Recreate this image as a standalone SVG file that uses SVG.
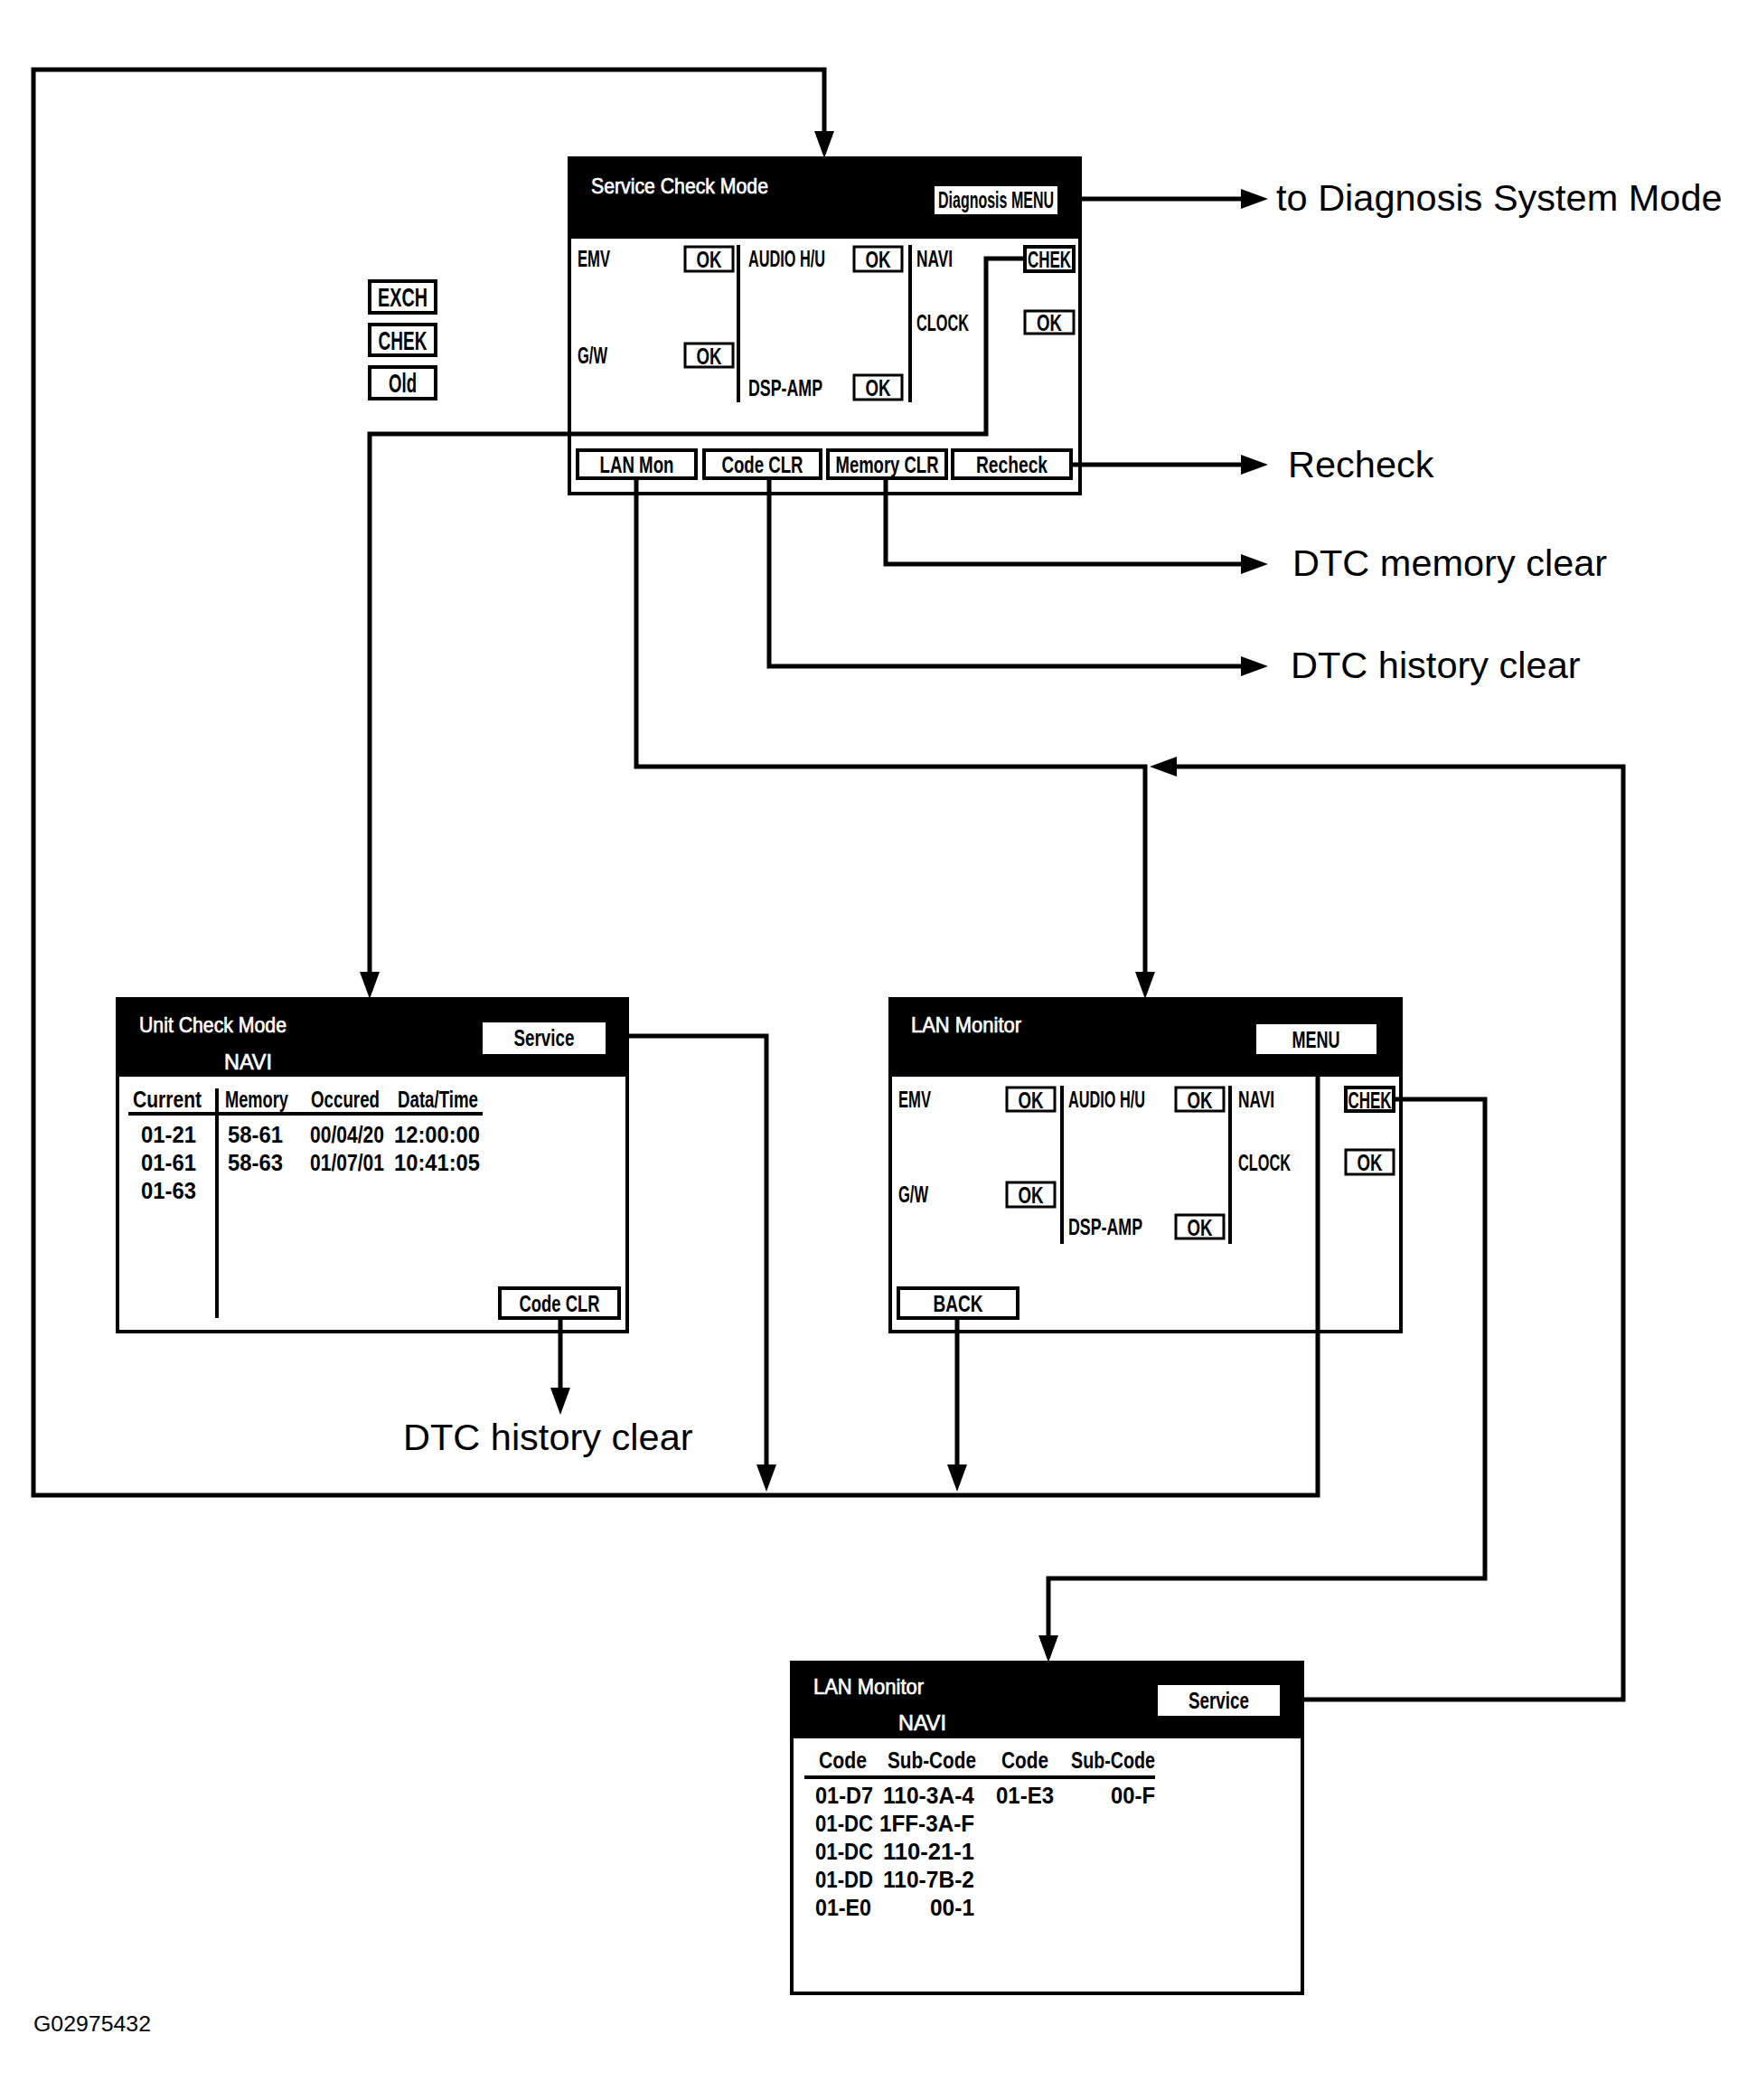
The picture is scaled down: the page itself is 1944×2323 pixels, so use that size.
<svg xmlns="http://www.w3.org/2000/svg" width="1944" height="2323" viewBox="0 0 1944 2323">
<style>
.bg{fill:#fff}
.box{fill:#fff;stroke:#000;stroke-width:4}
.hdr{fill:#000}
.btn{fill:#fff;stroke:#000;stroke-width:3}
.btnb{fill:#fff;stroke:#000;stroke-width:4}
.wbtn{fill:#fff}
.dv{stroke:#000;stroke-width:4;fill:none}
.conn{fill:none;stroke:#000;stroke-width:5}
text{font-family:"Liberation Sans",Arial,sans-serif}
.l{font-weight:bold;font-size:25px;fill:#000}
.c{font-weight:bold;font-size:25px;fill:#000;text-anchor:middle}
.e{font-weight:bold;font-size:25px;fill:#000;text-anchor:end}
.t{font-size:24px;fill:#fff;stroke:#fff;stroke-width:0.7}
.big{font-size:41.5px;fill:#000}
.lg{font-weight:bold;font-size:30px;fill:#000;text-anchor:middle}
.id{font-size:23.5px;fill:#000}
</style>
<defs>
<marker id="ah" markerUnits="userSpaceOnUse" markerWidth="30" markerHeight="22" refX="16" refY="11" orient="auto">
<path d="M0,0 L30,11 L0,22 z" fill="#000"/>
</marker>
</defs>
<rect class="bg" x="0" y="0" width="1944" height="2323"/>

<g id="legend">
<rect class="btnb" x="409" y="311" width="73" height="35"/>
<text class="lg" x="445.5" y="339" textLength="55" lengthAdjust="spacingAndGlyphs">EXCH</text>
<rect class="btnb" x="409" y="359" width="73" height="34"/>
<text class="lg" x="445.5" y="387" textLength="54" lengthAdjust="spacingAndGlyphs">CHEK</text>
<rect class="btnb" x="409" y="406" width="73" height="35"/>
<text class="lg" x="445.5" y="434" textLength="31" lengthAdjust="spacingAndGlyphs">Old</text>
</g>

<g id="service-check-mode">
<rect class="box" x="630" y="175" width="565" height="371"/>
<rect class="hdr" x="630" y="175" width="565" height="89"/>
<text class="t" x="654" y="214" textLength="196" lengthAdjust="spacingAndGlyphs">Service Check Mode</text>
<rect class="wbtn" x="1034" y="206" width="136" height="31"/>
<text class="c" x="1102" y="230" font-size="22" textLength="128" lengthAdjust="spacingAndGlyphs">Diagnosis MENU</text>
<line class="dv" x1="817" y1="271" x2="817" y2="445"/>
<line class="dv" x1="1007" y1="271" x2="1007" y2="445"/>
<text class="l" x="639" y="295" textLength="36" lengthAdjust="spacingAndGlyphs">EMV</text>
<rect class="btn" x="758" y="273" width="53" height="27"/>
<text class="c" x="784.5" y="296" textLength="28" lengthAdjust="spacingAndGlyphs">OK</text>
<text class="l" x="828" y="295" textLength="85" lengthAdjust="spacingAndGlyphs">AUDIO H/U</text>
<rect class="btn" x="945" y="273" width="53" height="27"/>
<text class="c" x="971.5" y="296" textLength="28" lengthAdjust="spacingAndGlyphs">OK</text>
<text class="l" x="1014" y="295" textLength="40" lengthAdjust="spacingAndGlyphs">NAVI</text>
<rect class="btnb" x="1134" y="273" width="54" height="27"/>
<text class="c" x="1161" y="296" textLength="48" lengthAdjust="spacingAndGlyphs">CHEK</text>
<text class="l" x="1014" y="366" textLength="58" lengthAdjust="spacingAndGlyphs">CLOCK</text>
<rect class="btn" x="1134" y="344" width="54" height="25"/>
<text class="c" x="1161" y="366" textLength="28" lengthAdjust="spacingAndGlyphs">OK</text>
<text class="l" x="639" y="402" textLength="33" lengthAdjust="spacingAndGlyphs">G/W</text>
<rect class="btn" x="758" y="380" width="53" height="26"/>
<text class="c" x="784.5" y="403" textLength="28" lengthAdjust="spacingAndGlyphs">OK</text>
<text class="l" x="828" y="438" textLength="82" lengthAdjust="spacingAndGlyphs">DSP-AMP</text>
<rect class="btn" x="945" y="415" width="53" height="27"/>
<text class="c" x="971.5" y="438" textLength="28" lengthAdjust="spacingAndGlyphs">OK</text>
<rect class="btnb" x="639" y="498" width="131" height="31"/>
<text class="c" x="704.5" y="523" textLength="82" lengthAdjust="spacingAndGlyphs">LAN Mon</text>
<rect class="btnb" x="779" y="498" width="129" height="31"/>
<text class="c" x="843.5" y="523" textLength="90" lengthAdjust="spacingAndGlyphs">Code CLR</text>
<rect class="btnb" x="916" y="498" width="131" height="31"/>
<text class="c" x="981.5" y="523" textLength="114" lengthAdjust="spacingAndGlyphs">Memory CLR</text>
<rect class="btnb" x="1054" y="498" width="131" height="31"/>
<text class="c" x="1119.5" y="523" textLength="79" lengthAdjust="spacingAndGlyphs">Recheck</text>
</g>

<g id="unit-check-mode">
<rect class="box" x="130" y="1105" width="564" height="368"/>
<rect class="hdr" x="130" y="1105" width="564" height="86"/>
<text class="t" x="154" y="1142" textLength="163" lengthAdjust="spacingAndGlyphs">Unit Check Mode</text>
<text class="t" x="248" y="1183" textLength="53" lengthAdjust="spacingAndGlyphs">NAVI</text>
<rect class="wbtn" x="534" y="1131" width="136" height="35"/>
<text class="c" x="602" y="1157" textLength="67" lengthAdjust="spacingAndGlyphs">Service</text>
<text class="l" x="147" y="1225" textLength="76" lengthAdjust="spacingAndGlyphs">Current</text>
<text class="l" x="249" y="1225" textLength="70" lengthAdjust="spacingAndGlyphs">Memory</text>
<text class="l" x="344" y="1225" textLength="76" lengthAdjust="spacingAndGlyphs">Occured</text>
<text class="l" x="440" y="1225" textLength="89" lengthAdjust="spacingAndGlyphs">Data/Time</text>
<line class="dv" x1="142" y1="1232" x2="534" y2="1232"/>
<line class="dv" x1="240" y1="1204" x2="240" y2="1458"/>
<text class="l" x="156" y="1264" textLength="61" lengthAdjust="spacingAndGlyphs">01-21</text>
<text class="l" x="252" y="1264" textLength="61" lengthAdjust="spacingAndGlyphs">58-61</text>
<text class="l" x="343" y="1264" textLength="82" lengthAdjust="spacingAndGlyphs">00/04/20</text>
<text class="l" x="436" y="1264" textLength="95" lengthAdjust="spacingAndGlyphs">12:00:00</text>
<text class="l" x="156" y="1295" textLength="61" lengthAdjust="spacingAndGlyphs">01-61</text>
<text class="l" x="252" y="1295" textLength="61" lengthAdjust="spacingAndGlyphs">58-63</text>
<text class="l" x="343" y="1295" textLength="82" lengthAdjust="spacingAndGlyphs">01/07/01</text>
<text class="l" x="436" y="1295" textLength="95" lengthAdjust="spacingAndGlyphs">10:41:05</text>
<text class="l" x="156" y="1326" textLength="61" lengthAdjust="spacingAndGlyphs">01-63</text>
<rect class="btnb" x="553" y="1425" width="132" height="33"/>
<text class="c" x="619" y="1451" textLength="89" lengthAdjust="spacingAndGlyphs">Code CLR</text>
</g>

<g id="lan-monitor">
<rect class="box" x="985" y="1105" width="565" height="368"/>
<rect class="hdr" x="985" y="1105" width="565" height="86"/>
<text class="t" x="1008" y="1142" textLength="122" lengthAdjust="spacingAndGlyphs">LAN Monitor</text>
<rect class="wbtn" x="1390" y="1133" width="133" height="33"/>
<text class="c" x="1456" y="1159" textLength="53" lengthAdjust="spacingAndGlyphs">MENU</text>
<line class="dv" x1="1175" y1="1201" x2="1175" y2="1376"/>
<line class="dv" x1="1361" y1="1201" x2="1361" y2="1376"/>
<text class="l" x="994" y="1225" textLength="36" lengthAdjust="spacingAndGlyphs">EMV</text>
<rect class="btn" x="1114" y="1203" width="53" height="26"/>
<text class="c" x="1140.5" y="1226" textLength="28" lengthAdjust="spacingAndGlyphs">OK</text>
<text class="l" x="1182" y="1225" textLength="85" lengthAdjust="spacingAndGlyphs">AUDIO H/U</text>
<rect class="btn" x="1301" y="1203" width="53" height="26"/>
<text class="c" x="1327.5" y="1226" textLength="28" lengthAdjust="spacingAndGlyphs">OK</text>
<text class="l" x="1370" y="1225" textLength="40" lengthAdjust="spacingAndGlyphs">NAVI</text>
<rect class="btnb" x="1489" y="1203" width="53" height="26"/>
<text class="c" x="1515.5" y="1226" textLength="48" lengthAdjust="spacingAndGlyphs">CHEK</text>
<text class="l" x="1370" y="1295" textLength="58" lengthAdjust="spacingAndGlyphs">CLOCK</text>
<rect class="btn" x="1489" y="1272" width="53" height="27"/>
<text class="c" x="1515.5" y="1295" textLength="28" lengthAdjust="spacingAndGlyphs">OK</text>
<text class="l" x="994" y="1330" textLength="33" lengthAdjust="spacingAndGlyphs">G/W</text>
<rect class="btn" x="1114" y="1308" width="53" height="27"/>
<text class="c" x="1140.5" y="1331" textLength="28" lengthAdjust="spacingAndGlyphs">OK</text>
<text class="l" x="1182" y="1366" textLength="82" lengthAdjust="spacingAndGlyphs">DSP-AMP</text>
<rect class="btn" x="1301" y="1344" width="53" height="26"/>
<text class="c" x="1327.5" y="1367" textLength="28" lengthAdjust="spacingAndGlyphs">OK</text>
<rect class="btnb" x="994" y="1425" width="132" height="33"/>
<text class="c" x="1060" y="1451" textLength="55" lengthAdjust="spacingAndGlyphs">BACK</text>
</g>

<g id="lan-monitor-navi">
<rect class="box" x="876" y="1839" width="565" height="366"/>
<rect class="hdr" x="876" y="1839" width="565" height="84"/>
<text class="t" x="900" y="1874" textLength="122" lengthAdjust="spacingAndGlyphs">LAN Monitor</text>
<text class="t" x="994" y="1914" textLength="53" lengthAdjust="spacingAndGlyphs">NAVI</text>
<rect class="wbtn" x="1281" y="1864" width="135" height="34"/>
<text class="c" x="1348.5" y="1890" textLength="67" lengthAdjust="spacingAndGlyphs">Service</text>
<text class="l" x="906" y="1956" textLength="53" lengthAdjust="spacingAndGlyphs">Code</text>
<text class="l" x="982" y="1956" textLength="98" lengthAdjust="spacingAndGlyphs">Sub-Code</text>
<text class="l" x="1108" y="1956" textLength="52" lengthAdjust="spacingAndGlyphs">Code</text>
<text class="l" x="1185" y="1956" textLength="93" lengthAdjust="spacingAndGlyphs">Sub-Code</text>
<line class="dv" x1="890" y1="1966" x2="1278" y2="1966"/>
<text class="l" x="902" y="1995" textLength="64" lengthAdjust="spacingAndGlyphs">01-D7</text>
<text class="e" x="1078" y="1995" textLength="101" lengthAdjust="spacingAndGlyphs">110-3A-4</text>
<text class="l" x="1102" y="1995" textLength="64" lengthAdjust="spacingAndGlyphs">01-E3</text>
<text class="e" x="1278" y="1995" textLength="49" lengthAdjust="spacingAndGlyphs">00-F</text>
<text class="l" x="902" y="2026" textLength="64" lengthAdjust="spacingAndGlyphs">01-DC</text>
<text class="e" x="1078" y="2026" textLength="105" lengthAdjust="spacingAndGlyphs">1FF-3A-F</text>
<text class="l" x="902" y="2057" textLength="64" lengthAdjust="spacingAndGlyphs">01-DC</text>
<text class="e" x="1078" y="2057" textLength="101" lengthAdjust="spacingAndGlyphs">110-21-1</text>
<text class="l" x="902" y="2088" textLength="64" lengthAdjust="spacingAndGlyphs">01-DD</text>
<text class="e" x="1078" y="2088" textLength="101" lengthAdjust="spacingAndGlyphs">110-7B-2</text>
<text class="l" x="902" y="2119" textLength="62" lengthAdjust="spacingAndGlyphs">01-E0</text>
<text class="e" x="1078" y="2119" textLength="49" lengthAdjust="spacingAndGlyphs">00-1</text>
</g>

<g id="connectors">
<path class="conn" d="M1458,1166 L1458,1654 L37,1654 L37,77 L912,77 L912,161" marker-end="url(#ah)"/>
<path class="conn" d="M1170,220 L1389,220" marker-end="url(#ah)"/>
<path class="conn" d="M1185,514 L1389,514" marker-end="url(#ah)"/>
<path class="conn" d="M980,529 L980,624 L1389,624" marker-end="url(#ah)"/>
<path class="conn" d="M851,529 L851,737 L1389,737" marker-end="url(#ah)"/>
<path class="conn" d="M704,529 L704,848 L1267,848 L1267,1091" marker-end="url(#ah)"/>
<path class="conn" d="M1416,1880 L1796,1880 L1796,848 L1286,848" marker-end="url(#ah)"/>
<path class="conn" d="M1134,286 L1091,286 L1091,480 L409,480 L409,1091" marker-end="url(#ah)"/>
<path class="conn" d="M670,1146 L848,1146 L848,1636" marker-end="url(#ah)"/>
<path class="conn" d="M620,1458 L620,1551" marker-end="url(#ah)"/>
<path class="conn" d="M1059,1458 L1059,1636" marker-end="url(#ah)"/>
<path class="conn" d="M1542,1216 L1643,1216 L1643,1746 L1160,1746 L1160,1825" marker-end="url(#ah)"/>
</g>

<g id="outcome-labels">
<text class="big" x="1412" y="233">to Diagnosis System Mode</text>
<text class="big" x="1425" y="528">Recheck</text>
<text class="big" x="1430" y="637">DTC memory clear</text>
<text class="big" x="1428" y="750">DTC history clear</text>
<text class="big" x="446" y="1604">DTC history clear</text>
</g>

<text class="id" x="37" y="2247" textLength="130" lengthAdjust="spacingAndGlyphs">G02975432</text>
</svg>
